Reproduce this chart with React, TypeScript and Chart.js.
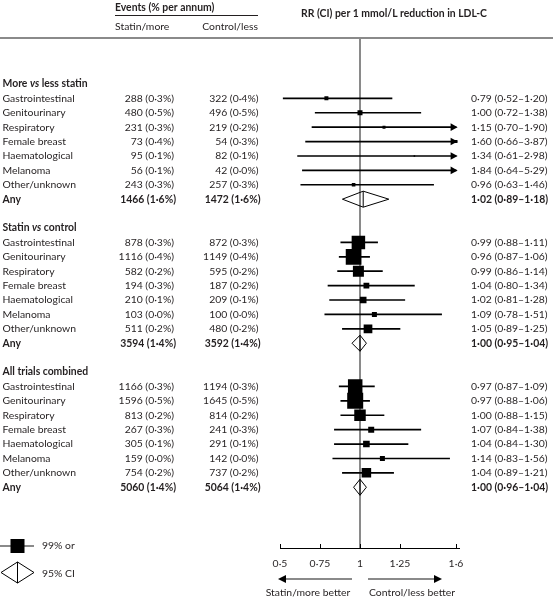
import React, { useEffect, useRef } from "react";
import { Chart, registerables } from "chart.js";
Chart.register(...registerables);

// ---------- data ----------
const groupTitles = ["More vs less statin", "Statin vs control", "All trials combined"];
const sites = ["Gastrointestinal", "Genitourinary", "Respiratory", "Female breast", "Haematological", "Melanoma", "Other/unknown", "Any"];

// More vs less statin
const mlStatinEvents = [288, 480, 231, 73, 95, 56, 243, 1466];
const mlStatinPct = [0.3, 0.5, 0.3, 0.4, 0.1, 0.1, 0.3, 1.6];
const mlControlEvents = [322, 496, 219, 54, 82, 42, 257, 1472];
const mlControlPct = [0.4, 0.5, 0.2, 0.3, 0.1, 0.0, 0.3, 1.6];
const mlRR = [0.79, 1.0, 1.15, 1.6, 1.34, 1.84, 0.96, 1.02];
const mlLo = [0.52, 0.72, 0.7, 0.66, 0.61, 0.64, 0.63, 0.89];
const mlHi = [1.2, 1.38, 1.9, 3.87, 2.98, 5.29, 1.46, 1.18];
const mlWeight = [4, 5, 3, 3, 1.6, 2, 3.6];

// Statin vs control
const scStatinEvents = [878, 1116, 582, 194, 210, 103, 511, 3594];
const scStatinPct = [0.3, 0.4, 0.2, 0.3, 0.1, 0.0, 0.2, 1.4];
const scControlEvents = [872, 1149, 595, 187, 209, 100, 480, 3592];
const scControlPct = [0.3, 0.4, 0.2, 0.2, 0.1, 0.0, 0.2, 1.4];
const scRR = [0.99, 0.96, 0.99, 1.04, 1.02, 1.09, 1.05, 1.0];
const scLo = [0.88, 0.87, 0.86, 0.8, 0.81, 0.78, 0.89, 0.95];
const scHi = [1.11, 1.06, 1.14, 1.34, 1.28, 1.51, 1.25, 1.04];
const scWeight = [13.5, 15.7, 11, 5.8, 6.6, 5, 8.7];

// All trials combined
const atStatinEvents = [1166, 1596, 813, 267, 305, 159, 754, 5060];
const atStatinPct = [0.3, 0.5, 0.2, 0.3, 0.1, 0.0, 0.2, 1.4];
const atControlEvents = [1194, 1645, 814, 241, 291, 142, 737, 5064];
const atControlPct = [0.3, 0.5, 0.2, 0.3, 0.1, 0.0, 0.2, 1.4];
const atRR = [0.97, 0.97, 1.0, 1.07, 1.04, 1.14, 1.04, 1.0];
const atLo = [0.87, 0.88, 0.88, 0.84, 0.84, 0.83, 0.89, 0.96];
const atHi = [1.09, 1.06, 1.15, 1.38, 1.3, 1.56, 1.21, 1.04];
const atWeight = [14.5, 16, 11.5, 6, 6.6, 5, 9.5];

const tickValues = [0.5, 0.75, 1, 1.25, 1.6];

// ---------- styling / layout ----------
const FONT = "Lato, 'Open Sans', sans-serif";
const FS = 10.4;
const INK = "#231f20";
const GREY = "#8a8a8a";
const W = 553;
const H = 598;
const X_MIN = 0.5;
const X_MAX = 1.62;
const ARROW_CAP = 1.6;
const ARROW_TIP = 1.61;
const ROWS_PER_GROUP = 10;

type Group = {
  title: string;
  sE: number[]; sP: number[]; cE: number[]; cP: number[];
  rr: number[]; lo: number[]; hi: number[]; w: number[];
};
const groups: Group[] = [
  { title: groupTitles[0], sE: mlStatinEvents, sP: mlStatinPct, cE: mlControlEvents, cP: mlControlPct, rr: mlRR, lo: mlLo, hi: mlHi, w: mlWeight },
  { title: groupTitles[1], sE: scStatinEvents, sP: scStatinPct, cE: scControlEvents, cP: scControlPct, rr: scRR, lo: scLo, hi: scHi, w: scWeight },
  { title: groupTitles[2], sE: atStatinEvents, sP: atStatinPct, cE: atControlEvents, cP: atControlPct, rr: atRR, lo: atLo, hi: atHi, w: atWeight },
];

const rowOf = (g: number, i: number) => g * ROWS_PER_GROUP + 1 + i;
const dec = (v: number, d: number) => v.toFixed(d).replace(".", "\u00b7");
const tickLabel = (v: number) => (v === 1 ? "1" : String(v).replace(".", "\u00b7"));

function font(bold: boolean, italic = false) {
  return `${italic ? "italic " : ""}${bold ? "bold " : ""}${FS}px ${FONT}`;
}

function text(ctx: CanvasRenderingContext2D, s: string, x: number, y: number, align: CanvasTextAlign, bold = false) {
  ctx.font = font(bold);
  ctx.textAlign = align;
  ctx.textBaseline = "middle";
  ctx.fillStyle = INK;
  ctx.fillText(s, x, y);
}

function heading(ctx: CanvasRenderingContext2D, s: string, x: number, y: number) {
  const parts = s.split(" vs ");
  ctx.textAlign = "left";
  ctx.textBaseline = "middle";
  ctx.fillStyle = INK;
  if (parts.length === 1) {
    ctx.font = font(true);
    ctx.fillText(s, x, y);
    return;
  }
  let cx = x;
  ctx.font = font(true);
  ctx.fillText(parts[0] + " ", cx, y);
  cx += ctx.measureText(parts[0] + " ").width;
  ctx.font = font(true, true);
  ctx.fillText("vs", cx, y);
  cx += ctx.measureText("vs").width;
  ctx.font = font(true);
  ctx.fillText(" " + parts[1], cx, y);
}

function seg(ctx: CanvasRenderingContext2D, x1: number, y1: number, x2: number, y2: number) {
  ctx.beginPath();
  ctx.moveTo(x1, y1);
  ctx.lineTo(x2, y2);
  ctx.stroke();
}

function tri(ctx: CanvasRenderingContext2D, tipX: number, y: number, dir: number, len: number, half: number) {
  ctx.beginPath();
  ctx.moveTo(tipX, y);
  ctx.lineTo(tipX - dir * len, y - half);
  ctx.lineTo(tipX - dir * len, y + half);
  ctx.closePath();
  ctx.fill();
}

const forestPlugin = {
  id: "forest",
  beforeDatasetsDraw(chart: any) {
    const { ctx, chartArea } = chart;
    const xs = chart.scales.x;
    ctx.save();
    ctx.strokeStyle = GREY;
    ctx.lineWidth = 2;
    seg(ctx, 0, 38, W, 38);
    const x1 = xs.getPixelForValue(1);
    seg(ctx, x1, 38, x1, chartArea.bottom);
    ctx.restore();
  },
  afterDatasetsDraw(chart: any) {
    const { ctx, chartArea } = chart;
    const xs = chart.scales.x;
    const ys = chart.scales.y;
    ctx.save();

    // header
    text(ctx, "Events (% per annum)", 115, 8, "left", true);
    ctx.strokeStyle = INK;
    ctx.lineWidth = 1;
    seg(ctx, 115, 15.5, 258, 15.5);
    text(ctx, "Statin/more", 115, 27, "left");
    text(ctx, "Control/less", 258, 27, "right");
    text(ctx, "RR (CI) per 1 mmol/L reduction in LDL-C", 394, 14, "center", true);

    groups.forEach((g, gi) => {
      heading(ctx, g.title, 2.5, ys.getPixelForValue(gi * ROWS_PER_GROUP));
      sites.forEach((site, i) => {
        const y = ys.getPixelForValue(rowOf(gi, i));
        const isAny = i === sites.length - 1;
        text(ctx, site, 2.5, y, "left", isAny);
        text(ctx, `${g.sE[i]} (${dec(g.sP[i], 1)}%)`, isAny ? 176 : 174, y, "right", isAny);
        text(ctx, `${g.cE[i]} (${dec(g.cP[i], 1)}%)`, isAny ? 260.5 : 258.5, y, "right", isAny);
        text(ctx, `${dec(g.rr[i], 2)} (${dec(g.lo[i], 2)}\u2013${dec(g.hi[i], 2)})`, 471, y, "left", isAny);

        ctx.fillStyle = "#000";
        ctx.strokeStyle = "#000";
        if (isAny) {
          const l = xs.getPixelForValue(g.lo[i]);
          const r = xs.getPixelForValue(g.hi[i]);
          const c = xs.getPixelForValue(g.rr[i]);
          const h = 8;
          ctx.lineWidth = 1;
          ctx.beginPath();
          ctx.moveTo(l, y);
          ctx.lineTo(c, y - h);
          ctx.lineTo(r, y);
          ctx.lineTo(c, y + h);
          ctx.closePath();
          ctx.stroke();
          seg(ctx, c, y - h, c, y + h);
        } else if (g.hi[i] > ARROW_CAP) {
          tri(ctx, xs.getPixelForValue(ARROW_TIP), y, 1, 7, 3.8);
        }
      });
    });

    // axis tick marks (pointing up)
    ctx.strokeStyle = "#000";
    ctx.lineWidth = 1;
    tickValues.forEach((v) => {
      const px = Math.round(xs.getPixelForValue(v)) + 0.5;
      seg(ctx, px, chartArea.bottom - 4, px, chartArea.bottom);
    });

    // direction arrows
    const x1 = xs.getPixelForValue(1);
    const ay = 579;
    ctx.strokeStyle = GREY;
    ctx.lineWidth = 2;
    seg(ctx, x1 - 8, ay, x1 - 76, ay);
    seg(ctx, x1 + 8, ay, x1 + 76, ay);
    ctx.fillStyle = "#000";
    tri(ctx, x1 - 82, ay, -1, 8, 4);
    tri(ctx, x1 + 82, ay, 1, 8, 4);
    text(ctx, "Statin/more better", x1 - 52, 593, "center");
    text(ctx, "Control/less better", x1 + 52, 593, "center");

    // legend
    ctx.strokeStyle = GREY;
    ctx.lineWidth = 2;
    seg(ctx, 0, 546, 34, 546);
    ctx.fillStyle = "#000";
    ctx.fillRect(10.5, 539, 14, 14);
    text(ctx, "99% or", 42, 546, "left");
    ctx.strokeStyle = "#000";
    ctx.lineWidth = 1;
    ctx.beginPath();
    ctx.moveTo(1, 572.5);
    ctx.lineTo(17.5, 562);
    ctx.lineTo(34, 572.5);
    ctx.lineTo(17.5, 583);
    ctx.closePath();
    ctx.stroke();
    seg(ctx, 17.5, 562, 17.5, 583);
    text(ctx, "95% CI", 42, 574, "left");

    ctx.restore();
  },
};

export default function App() {
  const ref = useRef<HTMLCanvasElement | null>(null);
  useEffect(() => {
    if (!ref.current) return;
    const ciData: any[] = [];
    const ptData: any[] = [];
    const ptRadius: number[] = [];
    groups.forEach((g, gi) => {
      for (let i = 0; i < sites.length - 1; i++) {
        const row = rowOf(gi, i);
        ciData.push({ x: [g.lo[i], Math.min(g.hi[i], ARROW_CAP)], y: row });
        ptData.push({ x: g.rr[i], y: row });
        ptRadius.push(g.w[i] / Math.SQRT2);
      }
    });
    const chart = new Chart(ref.current, {
      type: "bar",
      data: {
        datasets: [
          {
            type: "bar",
            data: ciData,
            backgroundColor: "#000",
            borderWidth: 0,
            barThickness: 1,
            grouped: false,
          } as any,
          {
            type: "scatter",
            data: ptData,
            pointStyle: "rect",
            pointRadius: ptRadius,
            backgroundColor: "#000",
            borderWidth: 0,
          } as any,
        ],
      },
      options: {
        indexAxis: "y",
        responsive: false,
        animation: false,
        events: [],
        layout: { padding: { left: 280, right: W - 459.2, top: 40.5, bottom: 0 } },
        plugins: { legend: { display: false }, tooltip: { enabled: false } },
        scales: {
          y: {
            type: "linear",
            reverse: true,
            min: -0.5,
            max: 29.7,
            display: false,
          },
          x: {
            type: "linear",
            position: "bottom",
            min: X_MIN,
            max: X_MAX,
            afterBuildTicks: (s: any) => {
              s.ticks = tickValues.map((v) => ({ value: v }));
            },
            afterFit: (s: any) => {
              s.height = H - 548;
            },
            ticks: {
              callback: (v: any) => tickLabel(Number(v)),
              font: { family: FONT, size: FS },
              color: INK,
              padding: 9,
              maxRotation: 0,
              autoSkip: false,
            },
            grid: { display: false, drawTicks: false },
            border: { display: true, color: "#000", width: 1 },
          },
        },
      } as any,
      plugins: [forestPlugin],
    });
    return () => chart.destroy();
  }, []);
  return (
    <div style={{ position: "fixed", left: 0, top: 0, width: W, height: H, background: "#fff" }}>
      <canvas ref={ref} width={W} height={H} style={{ width: W, height: H, display: "block" }} />
    </div>
  );
}
